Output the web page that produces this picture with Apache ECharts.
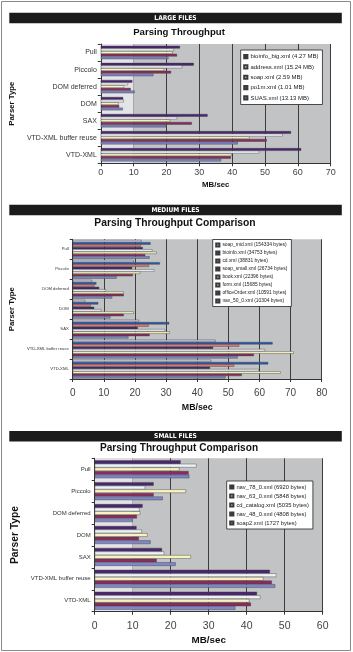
<!DOCTYPE html>
<html>
<head>
<meta charset="utf-8">
<script src="https://cdn.jsdelivr.net/npm/echarts@6/dist/echarts.min.js"></script>
<style>
html,body{margin:0;padding:0;background:#fff;}
#c{width:353px;height:652px;}
</style>
</head>
<body>
<div id="c"></div>
<script>
// ---------- data ----------
const categories = ['Pull', 'Piccolo', 'DOM deferred', 'DOM', 'SAX', 'VTD-XML buffer reuse', 'VTD-XML'];

const panelHeaders = ['LARGE FILES', 'MEDIUM FILES', 'SMALL FILES'];
const panelTitles = ['Parsing Throughput', 'Parsing Throughput Comparison', 'Parsing Throughput Comparison'];

// Large files
const largeNames = ['bioinfo_big.xml (4.27 MB)', 'address.xml (15.24 MB)', 'soap.xml (2.59 MB)', 'po1m.xml (1.01 MB)', 'SUAS.xml (13.13 MB)'];
const largeBioinfoBig = [24.1, 28.3, 9.6, 6.8, 32.5, 57.9, 61.0];
const largeAddress    = [22.3, 24.8, 8.3, 7.0, 23.3, 55.4, 48.3];
const largeSoap       = [21.9, 19.3, 7.1, 5.4, 21.1, 45.3, 39.8];
const largePo1m       = [23.2, 21.4, 9.1, 5.6, 27.7, 50.5, 39.6];
const largeSUAS       = [20.6, 16.0, 10.3, 6.7, 20.0, 41.7, 36.6];
const largeTicks = [0, 10, 20, 30, 40, 50, 60, 70];

// Medium files
const mediumNames = ['soap_mid.xml (154334 bytes)', 'bioinfo.xml (34753 bytes)', 'cd.xml (38831 bytes)', 'soap_small.xml (26734 bytes)', 'book.xml (22396 bytes)', 'form.xml (15685 bytes)', 'officeOrder.xml (10591 bytes)', 'nav_50_0.xml (10304 bytes)'];
const mediumSoapMid     = [22.1, 19.6, 6.2, 4.0, 21.3, 45.9, 44.5];
const mediumBioinfo     = [25.0, 28.0, 7.6, 8.2, 31.0, 64.2, 62.8];
const mediumCd          = [21.9, 24.5, 7.0, 5.8, 24.4, 53.5, 51.9];
const mediumSoapSmall   = [22.5, 19.1, 8.5, 6.9, 20.9, 45.1, 44.1];
const mediumBook        = [25.6, 26.2, 10.7, 9.2, 29.7, 61.8, 59.8];
const mediumForm        = [27.0, 21.7, 16.4, 19.6, 31.2, 71.0, 66.8];
const mediumOfficeOrder = [23.3, 19.3, 16.4, 16.4, 24.7, 58.2, 54.3];
const mediumNav50       = [24.7, 14.1, 12.7, 12.1, 17.9, 53.0, 49.1];
const mediumTicks = [0, 10, 20, 30, 40, 50, 60, 70, 80];

// Small files
const smallNames = ['nav_78_0.xml (6920 bytes)', 'nav_63_0.xml (5848 bytes)', 'cd_catalog.xml (5035 bytes)', 'nav_48_0.xml (4808 bytes)', 'soap2.xml (1727 bytes)'];
const smallNav78     = [22.6, 15.5, 12.6, 11.0, 17.7, 46.1, 42.7];
const smallNav63     = [26.8, 13.3, 11.8, 12.4, 18.3, 47.8, 43.6];
const smallCdCatalog = [22.3, 24.0, 12.0, 13.9, 25.3, 44.4, 40.7];
const smallNav48     = [24.7, 15.5, 11.1, 11.6, 16.3, 46.6, 41.1];
const smallSoap2     = [24.9, 17.9, 10.0, 14.7, 21.3, 47.5, 37.0];
const smallTicks = [0, 10, 20, 30, 40, 50, 60];

// ---------- styling ----------
const FONT = "'Liberation Sans', Arial, sans-serif";
const C_DARK = '#4a2670', C_WHITE = '#eef3f7', C_YELLOW = '#f7f2c2', C_MAROON = '#8a2d5e', C_LAV = '#7f86c6';
const C_SOAPMID = '#c9c9e6', C_BLUE = '#2b58a6', C_SALMON = '#e07a7a';

const panels = [
  { names: largeNames, data: [largeBioinfoBig, largeAddress, largeSoap, largePo1m, largeSUAS],
    colors: [C_DARK, C_WHITE, C_YELLOW, C_MAROON, C_LAV], ticks: largeTicks,
    grid: { left: 82.7, top: 44, width: 248, height: 119.3 }, catGap: '22%', light: true,
    catFont: 7, tickFont: 9, tickMargin: 5, xName: 7.8, xNameGap: 18, yName: 7.8, yNameGap: 58,
    legend: { left: 240.7, top: 50, font: 6, lh: 10.3 } },
  { names: mediumNames, data: [mediumSoapMid, mediumBioinfo, mediumCd, mediumSoapSmall, mediumBook, mediumForm, mediumOfficeOrder, mediumNav50],
    colors: [C_SOAPMID, C_BLUE, C_SALMON, C_DARK, C_WHITE, C_YELLOW, C_MAROON, C_LAV], ticks: mediumTicks,
    grid: { left: 53.3, top: 239.3, width: 268.4, height: 139.7 }, catGap: '6%', light: false,
    catFont: 4.2, tickFont: 10, tickMargin: 9, xName: 8.8, xNameGap: 24, yName: 7.8, yNameGap: 25,
    legend: { left: 212.7, top: 239.5, font: 4.9, lh: 8 } },
  { names: smallNames, data: [smallNav78, smallNav63, smallCdCatalog, smallNav48, smallSoap2],
    colors: [C_DARK, C_WHITE, C_YELLOW, C_MAROON, C_LAV], ticks: smallTicks,
    grid: { left: 94.7, top: 458.3, width: 228, height: 153.4 }, catGap: '18%', light: true,
    catFont: 6, tickFont: 10.5, tickMargin: 8.5, xName: 9.8, xNameGap: 24, yName: 10.3, yNameGap: 64,
    legend: { left: 226.7, top: 481, font: 5.8, lh: 9 } }
];

const grids = [], xAxes = [], yAxes = [], series = [], legends = [], titles = [];
const titleCenters = [179, 175, 179];
const titleTops = [27.5, 218.5, 443.5];
const titleSizes = [9.6, 10.3, 10.1];

panels.forEach((p, i) => {
  grids.push(Object.assign({ show: true, backgroundColor: '#c1c3c5', borderWidth: 0, containLabel: false }, p.grid));
  const tmax = p.ticks[p.ticks.length - 1];
  xAxes.push({
    type: 'value', gridIndex: i, min: p.ticks[0], max: tmax, interval: p.ticks[1] - p.ticks[0],
    axisLine: { show: true, lineStyle: { color: '#333', width: 1 } },
    axisTick: { show: true, length: 3, lineStyle: { color: '#333' } },
    splitLine: { show: true, lineStyle: { color: '#3c3c3c', width: 1 } },
    axisLabel: { fontSize: p.tickFont, color: '#444', fontFamily: FONT, margin: p.tickMargin },
    name: 'MB/sec', nameLocation: 'middle', nameGap: p.xNameGap,
    nameTextStyle: { fontSize: p.xName, fontWeight: 'bold', color: '#111', fontFamily: FONT }
  });
  yAxes.push({
    type: 'category', gridIndex: i, data: categories, inverse: true,
    axisLine: { show: true, lineStyle: { color: '#333', width: 1 } },
    axisTick: { show: true, length: 3, lineStyle: { color: '#333' } },
    axisLabel: { fontSize: p.catFont, color: '#333', fontFamily: FONT, margin: 4 },
    name: 'Parser Type', nameLocation: 'middle', nameGap: p.yNameGap,
    nameTextStyle: { fontSize: p.yName, fontWeight: 'bold', color: '#111', fontFamily: FONT }
  });
  p.names.forEach((n, k) => {
    const s = {
      type: 'bar', name: n, xAxisIndex: i, yAxisIndex: i, data: p.data[k], z: 3,
      barGap: 0, barCategoryGap: p.catGap,
      itemStyle: { color: p.colors[k], borderColor: '#3a3a3a', borderWidth: 0.4 },
      emphasis: { disabled: true }, animation: false
    };
    if (k === 0 && p.light) {
      s.markArea = { silent: true, z: 0, itemStyle: { color: '#e3e4e5', opacity: 1 },
        label: { show: false },
        data: [[{ xAxis: p.ticks[0] }, { xAxis: p.ticks[1] }]] };
    }
    series.push(s);
  });
  legends.push({
    data: p.names, orient: 'vertical', left: p.legend.left, top: p.legend.top,
    backgroundColor: '#fff', borderColor: '#222', borderWidth: 0.8,
    padding: [1.5, 4, 1.5, 2.5], itemGap: 0, itemWidth: 3.2, itemHeight: 3.2, icon: 'rect',
    selectedMode: false, z: 5,
    textStyle: { fontSize: p.legend.font, lineHeight: p.legend.lh, color: '#222', fontFamily: FONT, padding: [0, 0, 0, -2] }
  });
  titles.push({
    text: panelTitles[i], left: titleCenters[i], top: titleTops[i], textAlign: 'center', padding: 0,
    textStyle: { fontSize: titleSizes[i], fontWeight: 'bold', color: '#111', fontFamily: FONT }
  });
});

const headerTops = [12.7, 204.7, 431];
const graphics = [
  { type: 'rect', shape: { x: 1.5, y: 1.5, width: 349, height: 649 }, style: { fill: 'none', stroke: '#8a8a8a', lineWidth: 1 }, z: 0, silent: true }
];
panelHeaders.forEach((h, i) => {
  graphics.push({ type: 'rect', shape: { x: 9.3, y: headerTops[i], width: 332.5, height: 10.6 }, style: { fill: '#1b1b1b' }, silent: true, z: 1 });
  graphics.push({ type: 'text', x: 175.5, y: headerTops[i] + 5.5, silent: true, z: 2,
    style: { text: h, fill: '#fff', fontSize: 6.6, fontWeight: 'bold', fontFamily: "'DejaVu Sans Condensed', 'DejaVu Sans', sans-serif", align: 'center', verticalAlign: 'middle' } });
});

const chart = echarts.init(document.getElementById('c'), null, { renderer: 'canvas', width: 353, height: 652 });
chart.setOption({
  animation: false,
  backgroundColor: '#fff',
  title: titles,
  grid: grids,
  xAxis: xAxes,
  yAxis: yAxes,
  legend: legends,
  series: series,
  graphic: graphics
});
</script>
</body>
</html>
